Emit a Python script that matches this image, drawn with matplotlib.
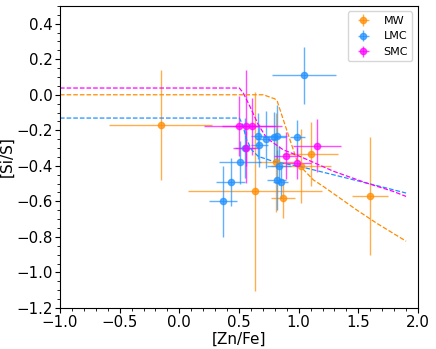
import numpy as np
import matplotlib
matplotlib.use('Agg')
import matplotlib.pyplot as plt

# data points: x, y, xerr, yerr
mw_x = [-0.156, 0.634, 0.81, 0.872, 1.02, 1.10, 1.598]
mw_y = [-0.17, -0.542, -0.381, -0.582, -0.40, -0.332, -0.57]
mw_xe = [0.43, 0.565, 0.15, 0.10, 0.25, 0.23, 0.15]
mw_ye = [0.31, 0.56, 0.28, 0.11, 0.21, 0.18, 0.33]

lmc_x = [1.047, 0.369, 0.43, 0.508, 0.55, 0.662, 0.67, 0.726, 0.793, 0.82, 0.99, 0.833, 0.816, 0.849]
lmc_y = [0.11, -0.60, -0.49, -0.38, -0.30, -0.23, -0.285, -0.25, -0.238, -0.23, -0.24, -0.40, -0.48, -0.49]
lmc_xe = [0.27, 0.117, 0.12, 0.175, 0.08, 0.06, 0.07, 0.08, 0.10, 0.08, 0.06, 0.10, 0.08, 0.06]
lmc_ye = [0.16, 0.20, 0.136, 0.12, 0.17, 0.13, 0.12, 0.16, 0.14, 0.17, 0.10, 0.11, 0.17, 0.09]

smc_x = [0.503, 0.556, 0.611, 0.559, 0.894, 0.983, 1.156]
smc_y = [-0.175, -0.178, -0.178, -0.302, -0.342, -0.385, -0.287]
smc_xe = [0.30, 0.10, 0.25, 0.11, 0.10, 0.12, 0.20]
smc_ye = [0.17, 0.32, 0.16, 0.10, 0.13, 0.09, 0.15]

# dashed model curves
mw_mx = [-1.0, 0.704, 0.80, 0.821, 0.871, 0.927, 0.983, 1.039, 1.123, 1.207, 1.486, 1.654, 1.9]
mw_my = [0.0, 0.0, -0.023, -0.037, -0.14, -0.253, -0.366, -0.42, -0.479, -0.516, -0.648, -0.723, -0.824]
lmc_mx = [-1.0, 0.503, 0.531, 0.564, 0.606, 0.662, 0.788, 1.011, 1.29, 1.57, 1.737, 1.9]
lmc_my = [-0.131, -0.131, -0.169, -0.253, -0.31, -0.347, -0.375, -0.404, -0.45, -0.497, -0.525, -0.553]
smc_mx = [-1.0, 0.503, 0.536, 0.592, 0.662, 0.732, 0.871, 1.011, 1.29, 1.57, 1.793, 1.9]
smc_my = [0.038, 0.038, 0.01, -0.066, -0.169, -0.244, -0.31, -0.347, -0.43, -0.497, -0.544, -0.572]

c_mw = 'darkorange'
c_lmc = 'dodgerblue'
c_smc = 'magenta'

fig = plt.figure(figsize=(4.36, 3.49), dpi=100)
ax = fig.add_axes([0.1376, 0.1175, 0.8211, 0.8655])

ax.errorbar(mw_x, mw_y, xerr=mw_xe, yerr=mw_ye, fmt='o', color=c_mw, alpha=0.7, ms=4.5, elinewidth=1, label='MW')
ax.errorbar(lmc_x, lmc_y, xerr=lmc_xe, yerr=lmc_ye, fmt='o', color=c_lmc, alpha=0.7, ms=4.5, elinewidth=1, label='LMC')
ax.errorbar(smc_x, smc_y, xerr=smc_xe, yerr=smc_ye, fmt='o', color=c_smc, alpha=0.7, ms=4.5, elinewidth=1, label='SMC')

ax.plot(mw_mx, mw_my, '--', color=c_mw, lw=0.9)
ax.plot(lmc_mx, lmc_my, '--', color=c_lmc, lw=0.9)
ax.plot(smc_mx, smc_my, '--', color=c_smc, lw=0.9)

ax.set_xlim(-1.0, 2.0)
ax.set_ylim(-1.2, 0.5)
ax.minorticks_on()
ax.tick_params(which='major', labelsize=10.8, length=3.5, pad=1.5)
ax.tick_params(which='minor', length=2)
ax.set_xlabel('[Zn/Fe]', fontsize=11, labelpad=1)
ax.set_ylabel('[Si/S]', fontsize=11)
ax.yaxis.set_label_coords(-0.128, 0.5)
ax.legend(loc='upper right', fontsize=8)

fig.savefig('out.png', dpi=100)
